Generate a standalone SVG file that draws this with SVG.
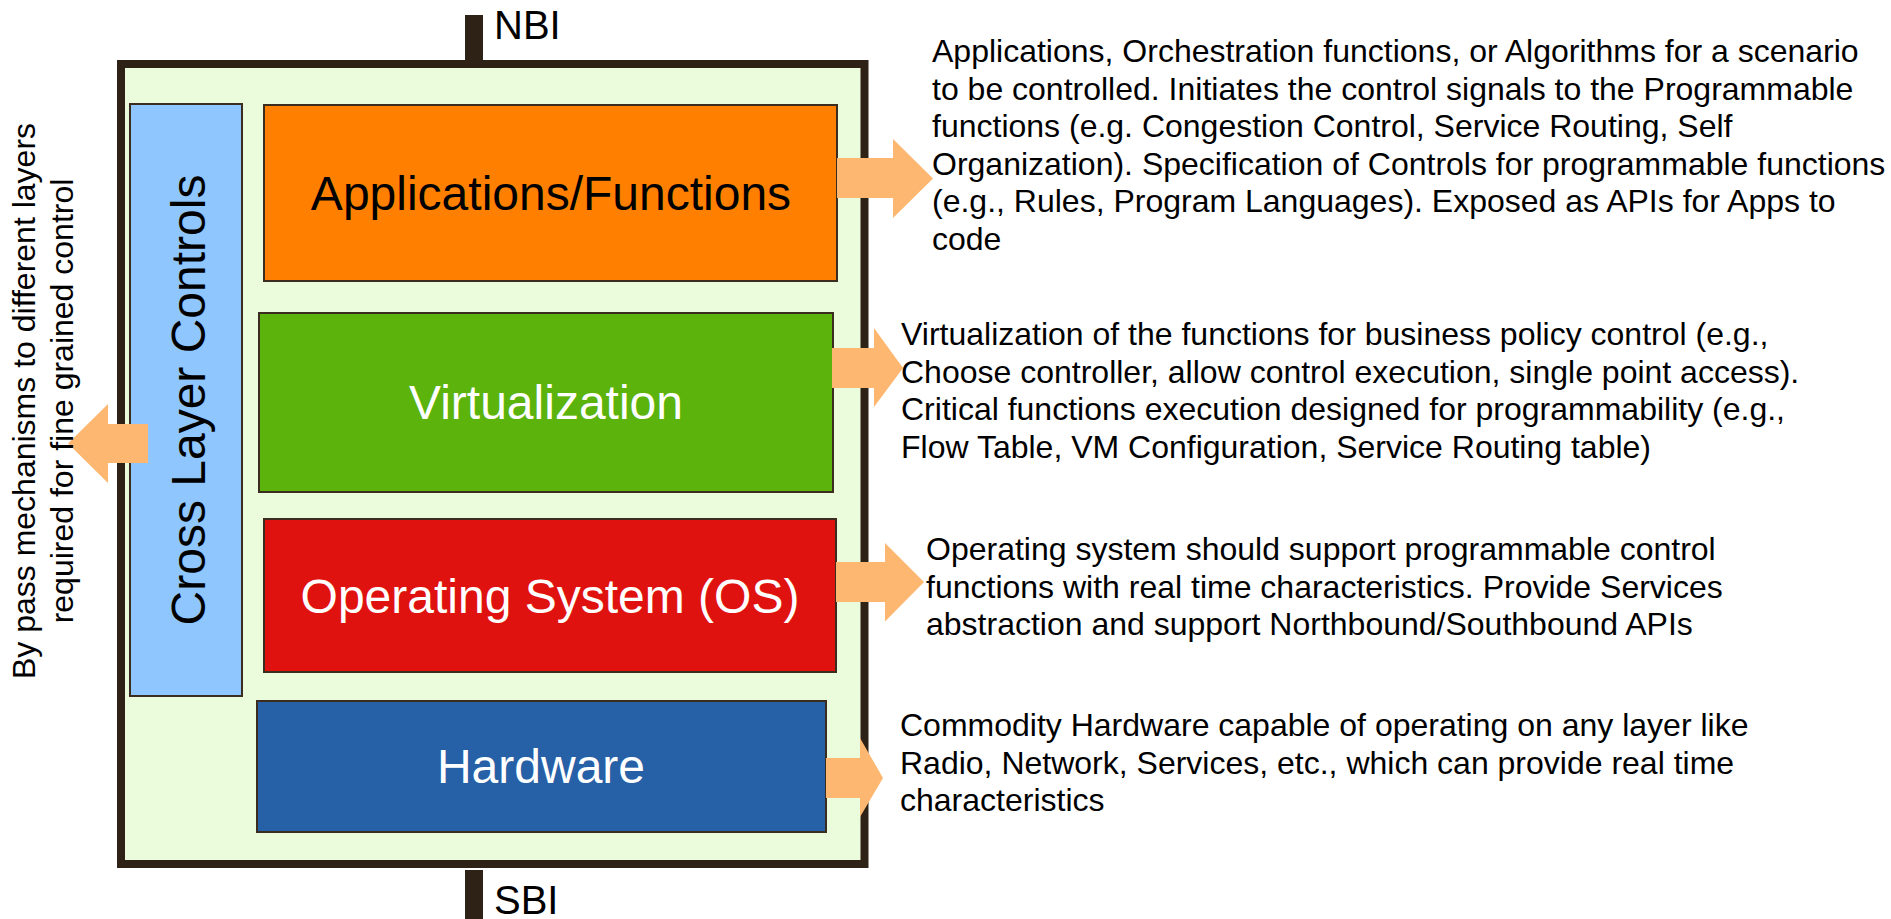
<svg xmlns="http://www.w3.org/2000/svg" width="1891" height="919" viewBox="0 0 1891 919">
<style>
.t{font-family:"Liberation Sans",Arial,sans-serif;}
.desc{font-family:"Liberation Sans",Arial,sans-serif;font-size:32px;fill:#000;}
.big{font-family:"Liberation Sans",Arial,sans-serif;font-size:48px;text-anchor:middle;}
.lay{stroke:#3a2c1e;stroke-width:2;}
.arr{fill:#fdb771;stroke:none;}
.bar{fill:#2e2116;}
</style>
<rect width="1891" height="919" fill="#fff"/>
<g id="frame">
<rect x="121" y="64" width="743.5" height="800" fill="#ebfcdd" stroke="#2e2116" stroke-width="8"/>
</g>
<g id="nbi">
<rect class="bar" x="465" y="15" width="18" height="50"/>
<text class="t" x="494" y="39" font-size="40">NBI</text>
</g>
<g id="sbi">
<rect class="bar" x="465" y="870" width="18" height="49"/>
<text class="t" x="494" y="914" font-size="40">SBI</text>
</g>
<g id="cross-layer">
<rect class="lay" x="130" y="104" width="112" height="592" fill="#8fc6fd"/>
<text class="big" transform="translate(205,400) rotate(-90)" fill="#000">Cross Layer Controls</text>
</g>
<g id="applications">
<rect class="lay" x="264" y="105" width="573" height="176" fill="#ff8000"/>
<text class="big" x="551" y="210" fill="#000">Applications/Functions</text>
</g>
<g id="virtualization">
<rect class="lay" x="259" y="313" width="574" height="179" fill="#5bb30b"/>
<text class="big" x="546" y="419" fill="#fff">Virtualization</text>
</g>
<g id="os">
<rect class="lay" x="264" y="519" width="572" height="153" fill="#e0120f"/>
<text class="big" x="550" y="613" fill="#fff">Operating System (OS)</text>
</g>
<g id="hardware">
<rect class="lay" x="257" y="701" width="569" height="131" fill="#2660a6"/>
<text class="big" x="541" y="783" fill="#fff">Hardware</text>
</g>
<g id="connectors">
<polygon class="arr" points="837,158 893,158 893,139 933,178.5 893,218 893,198 837,198"/>
<polygon class="arr" points="832,348 874,348 874,328 903,368 874,407 874,388 832,388"/>
<polygon class="arr" points="836,562 885,562 885,543 924,582 885,621.5 885,602 836,602"/>
<polygon class="arr" points="826,758 860,758 860,738 883,778 860,817 860,798 826,798"/>
<polygon class="arr" points="148,424 108,424 108,404 68,443.5 108,483 108,463 148,463"/>
</g>
<g id="bypass-note">
<text class="t" font-size="32" text-anchor="middle" transform="translate(35,401) rotate(-90)">By pass mechanisms to different layers</text>
<text class="t" font-size="32" text-anchor="middle" transform="translate(73,401) rotate(-90)">required for fine grained control</text>
</g>
<g id="app-desc">
<text class="desc" x="932" y="62">Applications, Orchestration functions, or Algorithms for a scenario</text>
<text class="desc" x="932" y="99.5">to be controlled. Initiates the control signals to the Programmable</text>
<text class="desc" x="932" y="137">functions (e.g. Congestion Control, Service Routing, Self</text>
<text class="desc" x="932" y="174.5">Organization). Specification of Controls for programmable functions</text>
<text class="desc" x="932" y="212">(e.g., Rules, Program Languages). Exposed as APIs for Apps to</text>
<text class="desc" x="932" y="249.5">code</text>
</g>
<g id="virt-desc">
<text class="desc" x="901" y="345">Virtualization of the functions for business policy control (e.g.,</text>
<text class="desc" x="901" y="382.5">Choose controller, allow control execution, single point access).</text>
<text class="desc" x="901" y="420">Critical functions execution designed for programmability (e.g.,</text>
<text class="desc" x="901" y="457.5">Flow Table, VM Configuration, Service Routing table)</text>
</g>
<g id="os-desc">
<text class="desc" x="926" y="560">Operating system should support programmable control</text>
<text class="desc" x="926" y="597.5">functions with real time characteristics. Provide Services</text>
<text class="desc" x="926" y="635">abstraction and support Northbound/Southbound APIs</text>
</g>
<g id="hw-desc">
<text class="desc" x="900" y="736">Commodity Hardware capable of operating on any layer like</text>
<text class="desc" x="900" y="773.5">Radio, Network, Services, etc., which can provide real time</text>
<text class="desc" x="900" y="811">characteristics</text>
</g>
</svg>
